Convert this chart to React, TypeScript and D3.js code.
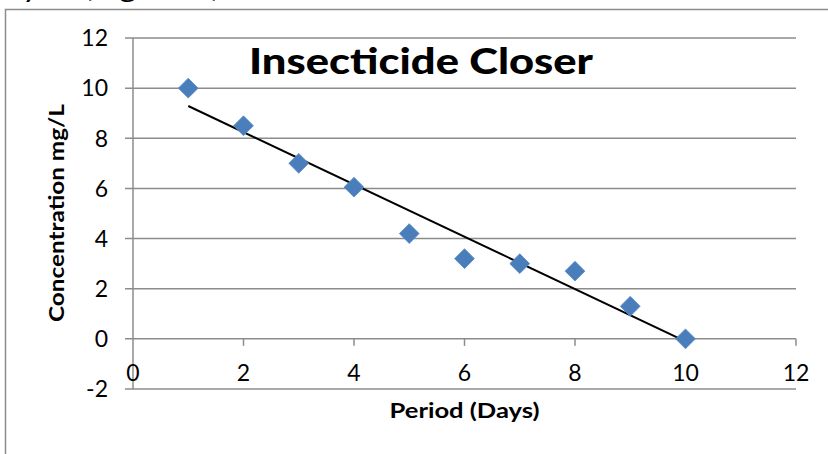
import * as d3 from "d3";
import React, { useRef, useEffect } from "react";

// days and measured concentration (mg/L)
const days = [1, 2, 3, 4, 5, 6, 7, 8, 9, 10];
const concentration = [10, 8.5, 7, 6.05, 4.2, 3.2, 3.0, 2.7, 1.3, 0];
const xTicks = [0, 2, 4, 6, 8, 10, 12];
const yTicks = [-2, 0, 2, 4, 6, 8, 10, 12];

const W = 828;
const H = 454;

function ScatterChart() {
  const ref = useRef<SVGSVGElement>(null);

  useEffect(() => {
    const svg = d3.select(ref.current);
    svg.selectAll("*").remove();

    const font = "Lato, 'Open Sans', sans-serif";
    const grid = "#8c8c8c";

    const x = d3.scaleLinear().domain([0, 12]).range([133, 796]);
    const y = d3.scaleLinear().domain([-2, 12]).range([389, 38]);

    // bit of the page text cut off above the chart
    svg
      .append("text")
      .attr("x", 22)
      .attr("y", -3)
      .attr("font-family", font)
      .attr("font-size", 26)
      .attr("textLength", 206)
      .attr("lengthAdjust", "spacingAndGlyphs")
      .text("ysis (Figure 4).");

    // chart frame
    svg
      .append("rect")
      .attr("x", 5.5)
      .attr("y", 9.5)
      .attr("width", 900)
      .attr("height", 600)
      .attr("fill", "none")
      .attr("stroke", grid)
      .attr("stroke-width", 1.5);

    // horizontal gridlines (including the tick stubs on the left)
    svg
      .append("g")
      .selectAll("line")
      .data(yTicks)
      .enter()
      .append("line")
      .attr("x1", 125)
      .attr("x2", x(12))
      .attr("y1", (d) => y(d))
      .attr("y2", (d) => y(d))
      .attr("stroke", grid)
      .attr("stroke-width", 1.5);

    // y axis line
    svg
      .append("line")
      .attr("x1", x(0))
      .attr("x2", x(0))
      .attr("y1", y(12))
      .attr("y2", y(-2))
      .attr("stroke", grid)
      .attr("stroke-width", 1.5);

    // x axis ticks hanging below zero
    svg
      .append("g")
      .selectAll("line")
      .data(xTicks.slice(1))
      .enter()
      .append("line")
      .attr("x1", (d) => x(d))
      .attr("x2", (d) => x(d))
      .attr("y1", y(0))
      .attr("y2", y(0) + 7)
      .attr("stroke", grid)
      .attr("stroke-width", 1.5);

    // y tick labels
    svg
      .append("g")
      .selectAll("text")
      .data(yTicks)
      .enter()
      .append("text")
      .attr("x", 108)
      .attr("y", (d) => y(d))
      .attr("dy", "0.36em")
      .attr("text-anchor", "end")
      .attr("font-family", font)
      .attr("font-size", 23)
      .text((d) => d);

    // x tick labels
    svg
      .append("g")
      .selectAll("text")
      .data(xTicks)
      .enter()
      .append("text")
      .attr("x", (d) => x(d))
      .attr("y", 381)
      .attr("text-anchor", "middle")
      .attr("font-family", font)
      .attr("font-size", 23)
      .text((d) => d);

    // trend line (least squares)
    const mx = d3.mean(days) as number;
    const my = d3.mean(concentration) as number;
    let sxy = 0,
      sxx = 0;
    days.forEach((d, i) => {
      sxy += (d - mx) * (concentration[i] - my);
      sxx += (d - mx) * (d - mx);
    });
    const slope = sxy / sxx;
    const icpt = my - slope * mx;
    const x0 = d3.min(days) as number;
    const x1 = d3.max(days) as number;

    svg
      .append("line")
      .attr("x1", x(x0))
      .attr("y1", y(icpt + slope * x0))
      .attr("x2", x(x1))
      .attr("y2", y(icpt + slope * x1))
      .attr("stroke", "#000")
      .attr("stroke-width", 2);

    // diamond markers
    const diamond = d3.symbol().type(d3.symbolSquare).size(196);
    svg
      .append("g")
      .selectAll("path")
      .data(days)
      .enter()
      .append("path")
      .attr("d", diamond)
      .attr("transform", (d, i) => "translate(" + x(d) + "," + y(concentration[i]) + ") rotate(45)")
      .attr("fill", "#4a7ebb")
      .attr("stroke", "#5b8ccb")
      .attr("stroke-width", 0.8);

    // title
    svg
      .append("text")
      .attr("x", 421)
      .attr("y", 74)
      .attr("text-anchor", "middle")
      .attr("font-family", font)
      .attr("font-weight", "900")
      .attr("font-size", 36)
      .attr("textLength", 344)
      .attr("lengthAdjust", "spacingAndGlyphs")
      .text("Insecticide Closer");

    // axis titles
    svg
      .append("text")
      .attr("x", x(6))
      .attr("y", 418)
      .attr("text-anchor", "middle")
      .attr("font-family", font)
      .attr("font-weight", "bold")
      .attr("font-size", 21)
      .attr("textLength", 150)
      .attr("lengthAdjust", "spacingAndGlyphs")
      .text("Period (Days)");

    svg
      .append("text")
      .attr("text-anchor", "middle")
      .attr("transform", "translate(64," + 213 + ")rotate(-90)")
      .attr("font-family", font)
      .attr("font-weight", "bold")
      .attr("font-size", 21)
      .attr("textLength", 218)
      .attr("lengthAdjust", "spacingAndGlyphs")
      .text("Concentration mg/L");
  }, []);

  return (
    <svg
      ref={ref}
      width={W}
      height={H}
      style={{ position: "absolute", left: 0, top: 0, background: "#fff" }}
    ></svg>
  );
}

export default function App() {
  return <ScatterChart />;
}
